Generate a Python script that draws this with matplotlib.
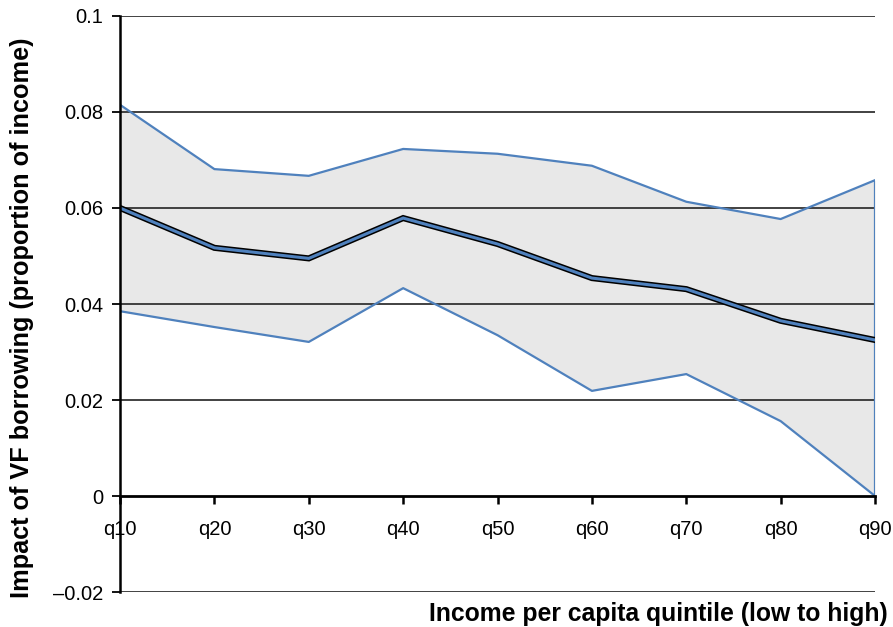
import matplotlib
matplotlib.use("Agg")
import matplotlib.pyplot as plt

plt.rcParams['font.family'] = ['Liberation Sans', 'DejaVu Sans']

# Quintile categories and estimated impact (proportion of income)
categories = ["q10", "q20", "q30", "q40", "q50", "q60", "q70", "q80", "q90"]
estimate = [0.0600, 0.0517, 0.0495, 0.0579, 0.0525, 0.0454, 0.0431, 0.0365, 0.0325]
upper_ci = [0.0815, 0.0681, 0.0667, 0.0723, 0.0713, 0.0688, 0.0613, 0.0577, 0.0658]
lower_ci = [0.0385, 0.0352, 0.0321, 0.0433, 0.0335, 0.0219, 0.0254, 0.0156, 0.0000]

ytick_values = [-0.02, 0, 0.02, 0.04, 0.06, 0.08, 0.1]
ytick_labels = ["\u20130.02", "0", "0.02", "0.04", "0.06", "0.08", "0.1"]

blue = "#4f81bd"
x = list(range(len(categories)))

fig = plt.figure(figsize=(8.93, 6.27), dpi=100)
ax = fig.add_axes([0.1344, 0.0558, 0.8455, 0.9187])

# Confidence band
ax.fill_between(x, lower_ci, upper_ci, color="#e8e8e8", linewidth=0, zorder=1)

# Horizontal gridlines
for v in ytick_values:
    if v != 0:
        ax.axhline(v, color="#333333", linewidth=1.3, zorder=2)

# Band edges
ax.plot(x, upper_ci, color=blue, linewidth=1.6, zorder=3)
ax.plot(x, lower_ci, color=blue, linewidth=1.6, zorder=3)
ax.vlines([x[-1]], lower_ci[-1], upper_ci[-1], color=blue, linewidth=1.6, zorder=3)

# Point estimate: blue line with black outline
ax.plot(x, estimate, color="black", linewidth=4.4, zorder=4, solid_joinstyle="miter")
ax.plot(x, estimate, color=blue, linewidth=2.2, zorder=5, solid_joinstyle="miter")

ax.set_xlim(x[0], x[-1])
ax.set_ylim(-0.02, 0.1)

ax.spines['top'].set_visible(False)
ax.spines['right'].set_visible(False)
ax.spines['left'].set_linewidth(1.8)
ax.spines['left'].set_zorder(6)
ax.spines['bottom'].set_position(('data', 0))
ax.spines['bottom'].set_linewidth(2.0)
ax.spines['bottom'].set_zorder(6)

ax.set_yticks(ytick_values)
ax.set_yticklabels(ytick_labels)
ax.set_xticks(x)
ax.set_xticklabels(categories)

ax.tick_params(axis='y', direction='out', length=6, width=1.3, pad=6, labelsize=14.5)
ax.tick_params(axis='x', direction='out', length=6, width=1.8, pad=11, labelsize=14.5)

fig.text(0.994, 0.002, "Income per capita quintile (low to high)", ha='right', va='bottom',
         fontsize=17.8, fontweight='bold')
fig.text(0.011, 0.494, "Impact of VF borrowing (proportion of income)", rotation=90,
         ha='left', va='center', fontsize=18.2, fontweight='bold')

fig.savefig("out.png", dpi=100)
